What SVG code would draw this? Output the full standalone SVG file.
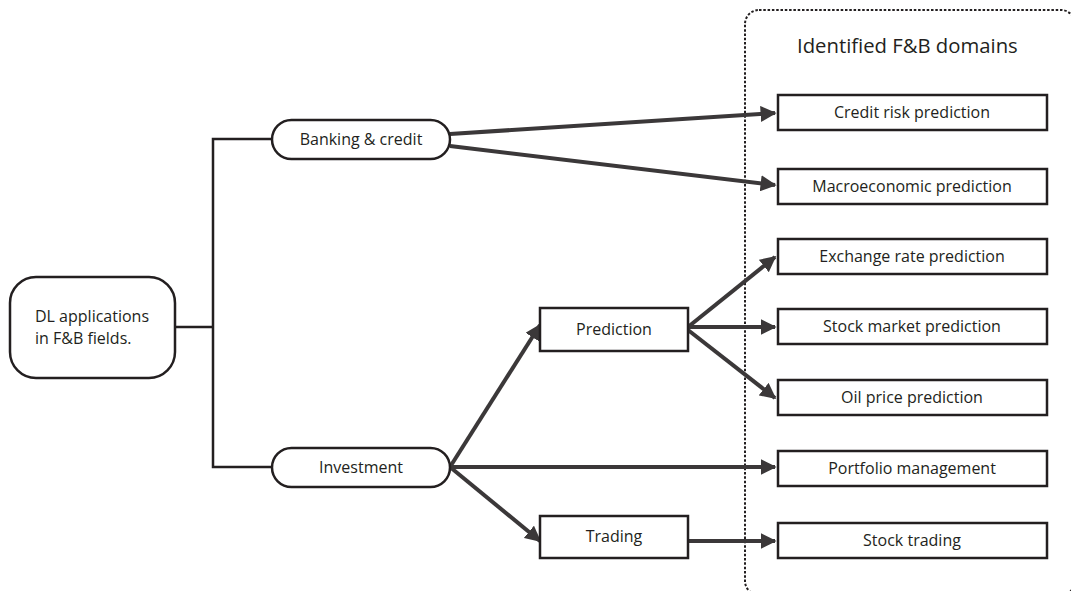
<svg xmlns="http://www.w3.org/2000/svg" width="1071" height="591" viewBox="0 0 1071 591">
  <defs>
    <marker id="arrow" viewBox="0 0 10 10" refX="9" refY="5" markerWidth="4" markerHeight="4" markerUnits="strokeWidth" orient="auto">
      <path d="M0,0 L10,5 L0,10 z" fill="#3b3839"/>
    </marker>
    <style>
      .box { fill: #fff; stroke: #231f20; stroke-width: 2.5; }
      .txt { font-family: "Open Sans", "Liberation Sans", sans-serif; font-size: 16px; fill: #231f20; }
      .mid { text-anchor: middle; }
      .tree { fill: none; stroke: #231f20; stroke-width: 2.5; }
      .arr { fill: none; stroke: #3b3839; stroke-width: 4; marker-end: url(#arrow); }
      .frame { fill: none; stroke: #231f20; stroke-width: 2; stroke-dasharray: 2.5 1.8; }
    </style>
  </defs>
  <rect width="1071" height="591" fill="#fff"/>

  <!-- dotted frame around the domain list -->
  <g id="domains-frame">
    <rect class="frame" x="745" y="10" width="330" height="585" rx="14"/>
    <text class="txt" x="797" y="53" style="font-size:20.3px">Identified F&amp;B domains</text>
  </g>

  <!-- connectors -->
  <g id="connectors">
    <polyline class="tree" points="175,327 213,327"/>
    <polyline class="tree" points="272,139 213,139 213,467 272,467"/>
    <line class="arr" x1="450" y1="134" x2="775" y2="113"/>
    <line class="arr" x1="450" y1="146" x2="775" y2="185"/>
    <line class="arr" x1="450" y1="467" x2="540" y2="325"/>
    <line class="arr" x1="450" y1="467" x2="775" y2="467"/>
    <line class="arr" x1="450" y1="467" x2="540" y2="541"/>
    <line class="arr" x1="688" y1="327" x2="775" y2="257"/>
    <line class="arr" x1="688" y1="327" x2="775" y2="327"/>
    <line class="arr" x1="688" y1="330" x2="775" y2="398"/>
    <line class="arr" x1="688" y1="541" x2="775" y2="541"/>
  </g>

  <g id="dl-applications">
    <rect class="box" x="10" y="277" width="165" height="101" rx="26"/>
    <text class="txt" x="35" y="322">DL applications</text>
    <text class="txt" x="35" y="344">in F&amp;B fields.</text>
  </g>

  <g id="banking-credit">
    <rect class="box" x="272" y="120" width="178" height="39" rx="19.5"/>
    <text class="txt mid" x="361" y="145">Banking &amp; credit</text>
  </g>

  <g id="investment">
    <rect class="box" x="272" y="448" width="178" height="39" rx="19.5"/>
    <text class="txt mid" x="361" y="473">Investment</text>
  </g>

  <g id="prediction">
    <rect class="box" x="540" y="308" width="148" height="43"/>
    <text class="txt mid" x="614" y="335">Prediction</text>
  </g>

  <g id="trading">
    <rect class="box" x="540" y="516" width="148" height="42"/>
    <text class="txt mid" x="614" y="542">Trading</text>
  </g>

  <g id="credit-risk">
    <rect class="box" x="778" y="95" width="269" height="35"/>
    <text class="txt mid" x="912" y="118">Credit risk prediction</text>
  </g>

  <g id="macroeconomic">
    <rect class="box" x="778" y="169" width="269" height="35"/>
    <text class="txt mid" x="912" y="192">Macroeconomic prediction</text>
  </g>

  <g id="exchange-rate">
    <rect class="box" x="778" y="239" width="269" height="35"/>
    <text class="txt mid" x="912" y="262">Exchange rate prediction</text>
  </g>

  <g id="stock-market">
    <rect class="box" x="778" y="309" width="269" height="35"/>
    <text class="txt mid" x="912" y="332">Stock market prediction</text>
  </g>

  <g id="oil-price">
    <rect class="box" x="778" y="380" width="269" height="35"/>
    <text class="txt mid" x="912" y="403">Oil price prediction</text>
  </g>

  <g id="portfolio">
    <rect class="box" x="778" y="451" width="269" height="35"/>
    <text class="txt mid" x="912" y="474">Portfolio management</text>
  </g>

  <g id="stock-trading">
    <rect class="box" x="778" y="523" width="269" height="35"/>
    <text class="txt mid" x="912" y="546">Stock trading</text>
  </g>
</svg>
